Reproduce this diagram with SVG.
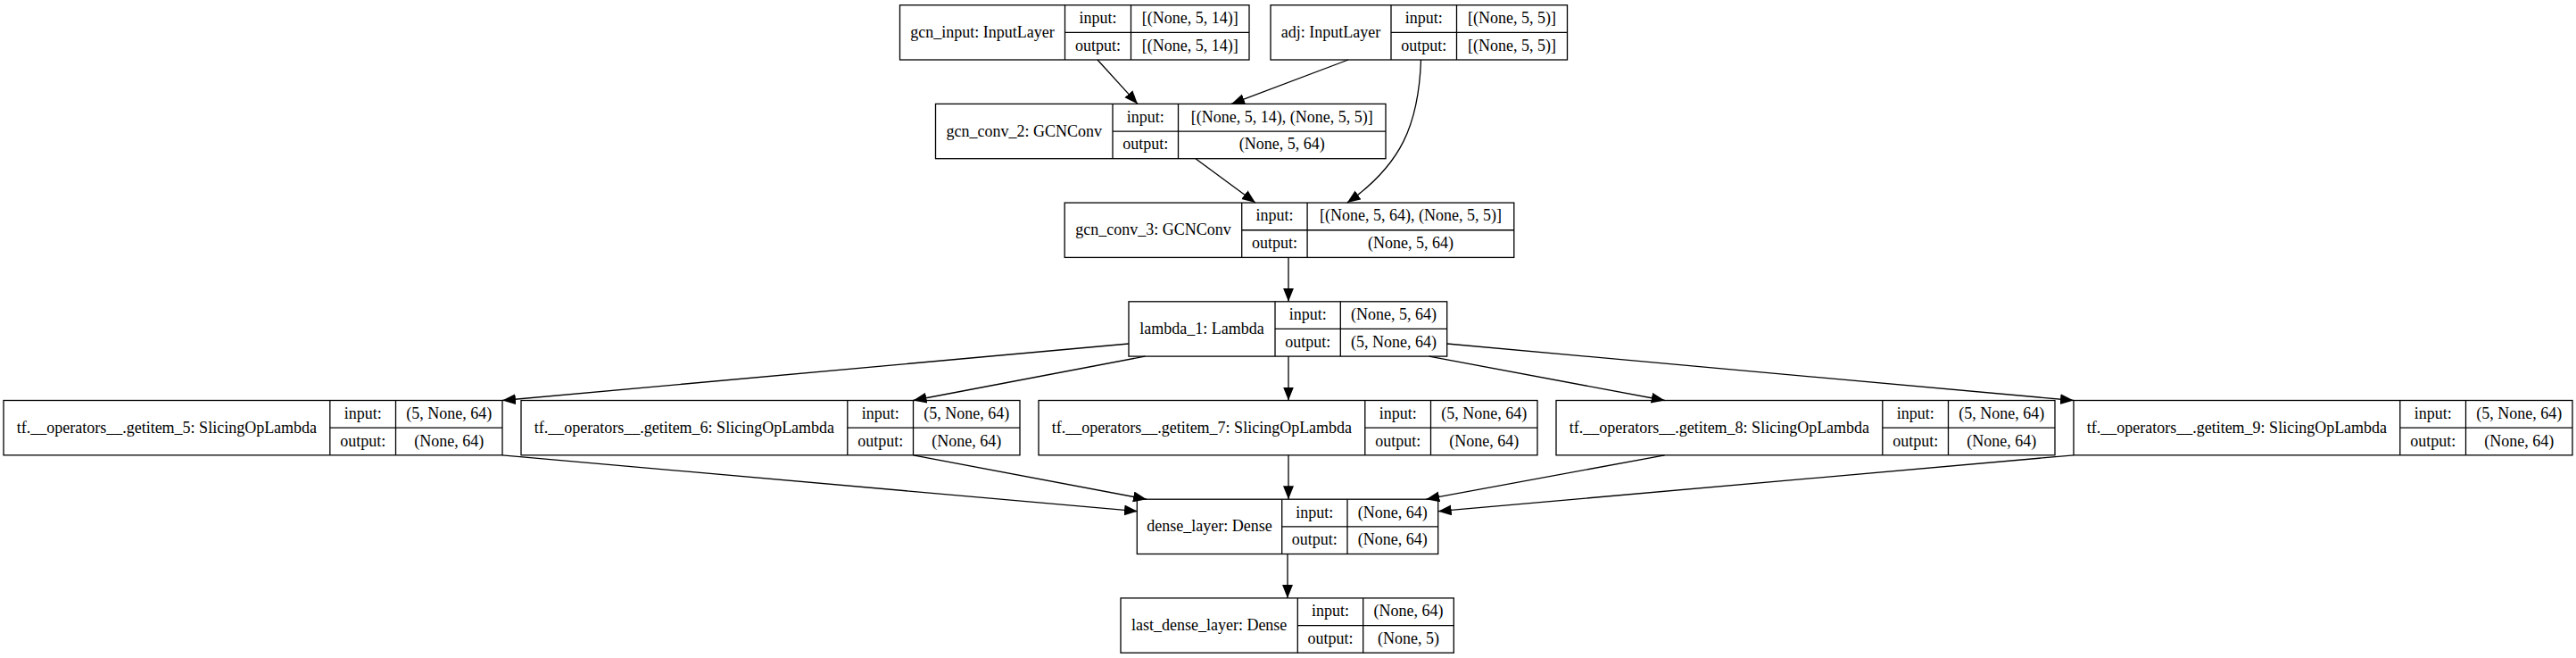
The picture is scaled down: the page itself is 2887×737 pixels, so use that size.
<svg xmlns="http://www.w3.org/2000/svg" width="2887" height="737" viewBox="0 0 2887 737">
<style>
.b{fill:none;stroke:#000;stroke-width:1.3}
.l{stroke:#000;stroke-width:1.3}
.e{fill:none;stroke:#000;stroke-width:1.3}
text{font-family:"Liberation Serif","Times New Roman",serif;font-size:18px;fill:#000;text-anchor:middle}
</style>
<defs>
<marker id="ah" markerUnits="userSpaceOnUse" markerWidth="16" markerHeight="13" refX="15" refY="6" orient="auto"><path d="M0,0 L15,6 L0,12 z" fill="#000"/></marker>
</defs>
<rect width="2887" height="737" fill="#fff"/>
<g id="connectors">
<path class="e" marker-end="url(#ah)" d="M1230,67 L1275,116.4"/>
<path class="e" marker-end="url(#ah)" d="M1511,67 L1380,116.4"/>
<path class="e" marker-end="url(#ah)" d="M1592.5,67 C1590,140 1570,185 1509.8,227.1"/>
<path class="e" marker-end="url(#ah)" d="M1340,177.7 L1406.9,227.1"/>
<path class="e" marker-end="url(#ah)" d="M1444,288.4 L1444,337.8"/>
<path class="e" marker-end="url(#ah)" d="M1265,385 L563,448.5"/>
<path class="e" marker-end="url(#ah)" d="M1283.3,399.1 L1023.5,448.5"/>
<path class="e" marker-end="url(#ah)" d="M1444,399.1 L1444,448.5"/>
<path class="e" marker-end="url(#ah)" d="M1601.7,399.1 L1865.7,448.5"/>
<path class="e" marker-end="url(#ah)" d="M1621.7,385 L2324,448.5"/>
<path class="e" marker-end="url(#ah)" d="M563,509.8 L1275,572.7"/>
<path class="e" marker-end="url(#ah)" d="M1023.5,509.8 L1285,559.2"/>
<path class="e" marker-end="url(#ah)" d="M1444,509.8 L1444,559.2"/>
<path class="e" marker-end="url(#ah)" d="M1865.7,509.8 L1598.3,559.2"/>
<path class="e" marker-end="url(#ah)" d="M2324,509.8 L1611.7,572.7"/>
<path class="e" marker-end="url(#ah)" d="M1443,620.5 L1443,669.9"/>
</g>
<g id="gcn_input">
<rect class="b" x="1008.5" y="5.7" width="391.5" height="61.3"/>
<line class="l" x1="1193.5" y1="5.7" x2="1193.5" y2="67"/><line class="l" x1="1267.5" y1="5.7" x2="1267.5" y2="67"/><line class="l" x1="1193.5" y1="36.35" x2="1400" y2="36.35"/>
<text x="1101" y="41.9">gcn_input: InputLayer</text>
<text x="1230.5" y="26">input:</text><text x="1333.75" y="26">[(None, 5, 14)]</text>
<text x="1230.5" y="56.7">output:</text><text x="1333.75" y="56.7">[(None, 5, 14)]</text>
</g>
<g id="adj">
<rect class="b" x="1424" y="5.7" width="332.5" height="61.3"/>
<line class="l" x1="1559" y1="5.7" x2="1559" y2="67"/><line class="l" x1="1632.5" y1="5.7" x2="1632.5" y2="67"/><line class="l" x1="1559" y1="36.35" x2="1756.5" y2="36.35"/>
<text x="1491.5" y="41.9">adj: InputLayer</text>
<text x="1595.75" y="26">input:</text><text x="1694.5" y="26">[(None, 5, 5)]</text>
<text x="1595.75" y="56.7">output:</text><text x="1694.5" y="56.7">[(None, 5, 5)]</text>
</g>
<g id="gcn_conv_2">
<rect class="b" x="1048.5" y="116.4" width="504.5" height="61.3"/>
<line class="l" x1="1247" y1="116.4" x2="1247" y2="177.7"/><line class="l" x1="1320.5" y1="116.4" x2="1320.5" y2="177.7"/><line class="l" x1="1247" y1="147.05" x2="1553" y2="147.05"/>
<text x="1147.75" y="152.6">gcn_conv_2: GCNConv</text>
<text x="1283.75" y="136.7">input:</text><text x="1436.75" y="136.7">[(None, 5, 14), (None, 5, 5)]</text>
<text x="1283.75" y="167.4">output:</text><text x="1436.75" y="167.4">(None, 5, 64)</text>
</g>
<g id="gcn_conv_3">
<rect class="b" x="1193.2" y="227.1" width="503.6" height="61.3"/>
<line class="l" x1="1391.7" y1="227.1" x2="1391.7" y2="288.4"/><line class="l" x1="1465.1" y1="227.1" x2="1465.1" y2="288.4"/><line class="l" x1="1391.7" y1="257.75" x2="1696.8" y2="257.75"/>
<text x="1292.45" y="263.3">gcn_conv_3: GCNConv</text>
<text x="1428.4" y="247.4">input:</text><text x="1580.95" y="247.4">[(None, 5, 64), (None, 5, 5)]</text>
<text x="1428.4" y="278.1">output:</text><text x="1580.95" y="278.1">(None, 5, 64)</text>
</g>
<g id="lambda_1">
<rect class="b" x="1265" y="337.8" width="356.7" height="61.3"/>
<line class="l" x1="1429" y1="337.8" x2="1429" y2="399.1"/><line class="l" x1="1502.3" y1="337.8" x2="1502.3" y2="399.1"/><line class="l" x1="1429" y1="368.45" x2="1621.7" y2="368.45"/>
<text x="1347" y="374">lambda_1: Lambda</text>
<text x="1465.65" y="358.1">input:</text><text x="1562" y="358.1">(None, 5, 64)</text>
<text x="1465.65" y="388.8">output:</text><text x="1562" y="388.8">(5, None, 64)</text>
</g>
<g id="getitem_5">
<rect class="b" x="4" y="448.5" width="559" height="61.3"/>
<line class="l" x1="369.8" y1="448.5" x2="369.8" y2="509.8"/><line class="l" x1="443.5" y1="448.5" x2="443.5" y2="509.8"/><line class="l" x1="369.8" y1="479.15" x2="563" y2="479.15"/>
<text x="186.9" y="484.7">tf.__operators__.getitem_5: SlicingOpLambda</text>
<text x="406.65" y="468.8">input:</text><text x="503.25" y="468.8">(5, None, 64)</text>
<text x="406.65" y="499.5">output:</text><text x="503.25" y="499.5">(None, 64)</text>
</g>
<g id="getitem_6">
<rect class="b" x="584" y="448.5" width="559" height="61.3"/>
<line class="l" x1="949.8" y1="448.5" x2="949.8" y2="509.8"/><line class="l" x1="1023.5" y1="448.5" x2="1023.5" y2="509.8"/><line class="l" x1="949.8" y1="479.15" x2="1143" y2="479.15"/>
<text x="766.9" y="484.7">tf.__operators__.getitem_6: SlicingOpLambda</text>
<text x="986.65" y="468.8">input:</text><text x="1083.25" y="468.8">(5, None, 64)</text>
<text x="986.65" y="499.5">output:</text><text x="1083.25" y="499.5">(None, 64)</text>
</g>
<g id="getitem_7">
<rect class="b" x="1164" y="448.5" width="559" height="61.3"/>
<line class="l" x1="1529.8" y1="448.5" x2="1529.8" y2="509.8"/><line class="l" x1="1603.5" y1="448.5" x2="1603.5" y2="509.8"/><line class="l" x1="1529.8" y1="479.15" x2="1723" y2="479.15"/>
<text x="1346.9" y="484.7">tf.__operators__.getitem_7: SlicingOpLambda</text>
<text x="1566.65" y="468.8">input:</text><text x="1663.25" y="468.8">(5, None, 64)</text>
<text x="1566.65" y="499.5">output:</text><text x="1663.25" y="499.5">(None, 64)</text>
</g>
<g id="getitem_8">
<rect class="b" x="1744" y="448.5" width="559" height="61.3"/>
<line class="l" x1="2109.8" y1="448.5" x2="2109.8" y2="509.8"/><line class="l" x1="2183.5" y1="448.5" x2="2183.5" y2="509.8"/><line class="l" x1="2109.8" y1="479.15" x2="2303" y2="479.15"/>
<text x="1926.9" y="484.7">tf.__operators__.getitem_8: SlicingOpLambda</text>
<text x="2146.65" y="468.8">input:</text><text x="2243.25" y="468.8">(5, None, 64)</text>
<text x="2146.65" y="499.5">output:</text><text x="2243.25" y="499.5">(None, 64)</text>
</g>
<g id="getitem_9">
<rect class="b" x="2324" y="448.5" width="559" height="61.3"/>
<line class="l" x1="2689.8" y1="448.5" x2="2689.8" y2="509.8"/><line class="l" x1="2763.5" y1="448.5" x2="2763.5" y2="509.8"/><line class="l" x1="2689.8" y1="479.15" x2="2883" y2="479.15"/>
<text x="2506.9" y="484.7">tf.__operators__.getitem_9: SlicingOpLambda</text>
<text x="2726.65" y="468.8">input:</text><text x="2823.25" y="468.8">(5, None, 64)</text>
<text x="2726.65" y="499.5">output:</text><text x="2823.25" y="499.5">(None, 64)</text>
</g>
<g id="dense_layer">
<rect class="b" x="1274.3" y="559.2" width="337.4" height="61.3"/>
<line class="l" x1="1436.7" y1="559.2" x2="1436.7" y2="620.5"/><line class="l" x1="1510" y1="559.2" x2="1510" y2="620.5"/><line class="l" x1="1436.7" y1="589.85" x2="1611.7" y2="589.85"/>
<text x="1355.5" y="595.4">dense_layer: Dense</text>
<text x="1473.35" y="579.5">input:</text><text x="1560.85" y="579.5">(None, 64)</text>
<text x="1473.35" y="610.2">output:</text><text x="1560.85" y="610.2">(None, 64)</text>
</g>
<g id="last_dense_layer">
<rect class="b" x="1256" y="669.9" width="373.3" height="61.3"/>
<line class="l" x1="1454.3" y1="669.9" x2="1454.3" y2="731.2"/><line class="l" x1="1527.7" y1="669.9" x2="1527.7" y2="731.2"/><line class="l" x1="1454.3" y1="700.55" x2="1629.3" y2="700.55"/>
<text x="1355.15" y="706.1">last_dense_layer: Dense</text>
<text x="1491" y="690.2">input:</text><text x="1578.5" y="690.2">(None, 64)</text>
<text x="1491" y="720.9">output:</text><text x="1578.5" y="720.9">(None, 5)</text>
</g>
</svg>
